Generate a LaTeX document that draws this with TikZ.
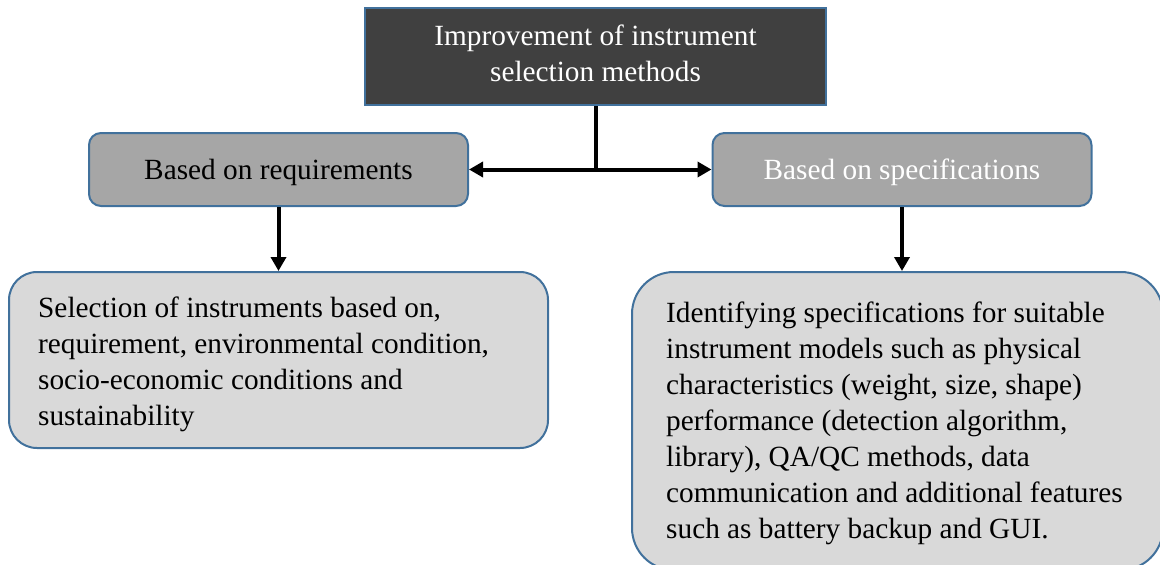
\documentclass[tikz,border=0pt]{standalone}
\usepackage{fontspec}
\setmainfont{Liberation Serif}
\usetikzlibrary{arrows.meta}
\definecolor{bordblue}{HTML}{41719C}
\definecolor{darkfill}{HTML}{404040}
\definecolor{midfill}{HTML}{A6A6A6}
\definecolor{lightfill}{HTML}{D9D9D9}
\begin{document}
\begin{tikzpicture}[x=1pt,y=-1pt,
  txt/.style={font=\fontsize{29.3}{36}\selectfont},
  topbox/.style={txt, draw=bordblue, line width=2pt, fill=darkfill, text=white,
    minimum width=461pt, minimum height=97pt, align=center, inner sep=0pt},
  midbox/.style={txt, draw=bordblue, line width=2pt, fill=midfill, rounded corners=12pt,
    minimum width=379pt, minimum height=73pt, inner sep=0pt, text height=25pt, text depth=6pt},
  botbox/.style={draw=bordblue, line width=2pt, fill=lightfill, inner sep=0pt},
  bodytext/.style={txt, anchor=north west, align=left, inner sep=0pt},
  conn/.style={line width=4pt, -{Triangle[length=14pt,width=15pt]}},
  plain/.style={line width=4pt}
]
\useasboundingbox (0,0) rectangle (1160,565);
\clip (0,0) rectangle (1160,565);

\node[topbox] (top) at (595.5,56.5) {\strut Improvement of instrument\\selection methods\strut};
\node[midbox] (midl) at (278.5,169.5) {Based on requirements};
\node[midbox, text=white] (midr) at (902,169.5) {Based on specifications};

\node[botbox, rounded corners=28pt, minimum width=539pt, minimum height=176pt] (botl) at (278.5,360) {};
\node[botbox, rounded corners=42pt, minimum width=531pt, minimum height=298pt] (botr) at (897.5,421) {};

\node[bodytext] (tl) at (38,291.8) {\strut Selection of instruments based on,\\
requirement, environmental condition,\\
socio-economic conditions and\\
sustainability};
\node[bodytext] (tr) at (666,296.8) {\strut Identifying specifications for suitable\\
instrument models such as physical\\
characteristics (weight, size, shape)\\
performance (detection algorithm,\\
library), QA/QC methods, data\\
communication and additional features\\
such as battery backup and GUI.};

\coordinate (j) at (top.south |- midl.east);
\draw[plain] (top.south) -- (j);
\draw[{Triangle[length=14pt,width=15pt]}-{Triangle[length=14pt,width=15pt]}, line width=4pt] (midl.east) -- (midr.west);
\draw[conn] (midl.south) -- (midl.south |- botl.north);
\draw[conn] (midr.south) -- (midr.south |- botr.north);
\end{tikzpicture}
\end{document}
